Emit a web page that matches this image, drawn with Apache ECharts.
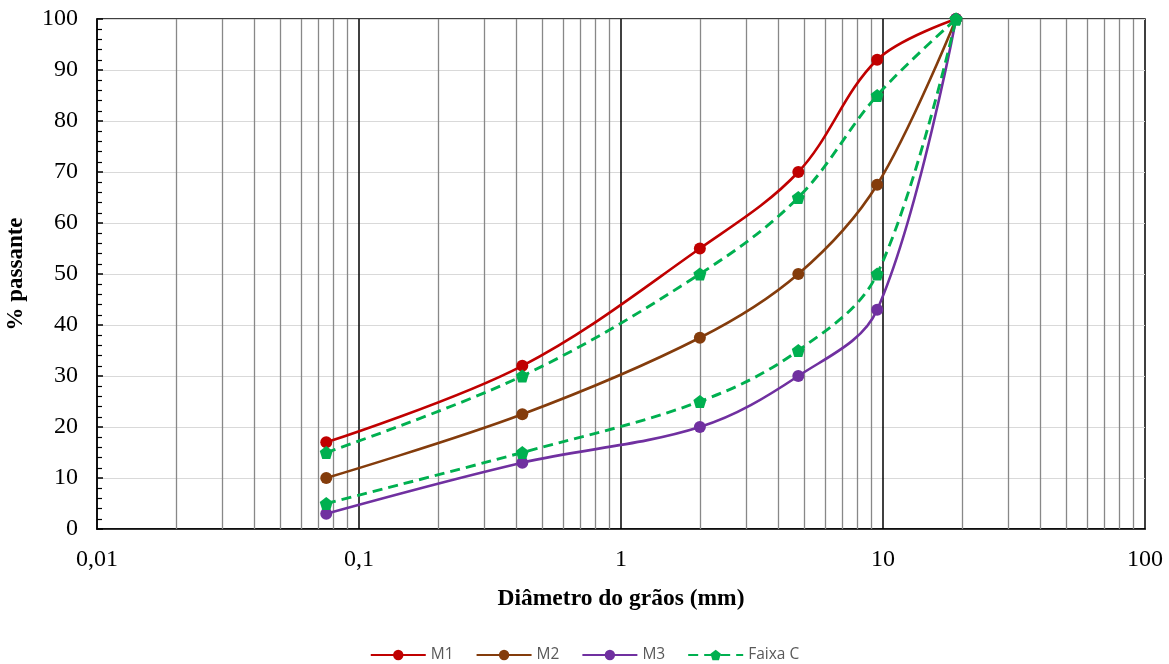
<!DOCTYPE html>
<html><head><meta charset="utf-8">
<script src="https://cdn.jsdelivr.net/npm/echarts@6/dist/echarts.min.js"></script>
<style>html,body{margin:0;padding:0;background:#fff}#c{width:1169px;height:664px}</style>
</head><body><div id="c"></div>
<script>
const sieves = [0.075, 0.42, 2.0, 4.75, 9.5, 19.0];
const m1 = [17, 32, 55, 70, 92, 100];
const m2 = [10, 22.5, 37.5, 50, 67.5, 100];
const m3 = [3, 13, 20, 30, 43, 100];
const faixaSup = [15, 30, 50, 65, 85, 100];
const faixaInf = [5, 15, 25, 35, 50, 100];
const decades = [0.01, 0.1, 1, 10];
const majorLines = [0.1, 1, 10];

const serif = 'Liberation Serif';
const pent = 'path://M0,-10 L9.5,-3.1 L5.9,8.1 L-5.9,8.1 L-9.5,-3.1 Z';
function pts(v){ return sieves.map((x,i)=>[x, v[i]]); }

const minor = [];
decades.forEach(d=>{ for(let k=2;k<=9;k++) minor.push({xAxis: +(d*k).toPrecision(3)}); });

function lineSeries(name, data, color, dashed, symbol){
  return {
    name, type:'line', data: pts(data), smooth:0.35, symbol: symbol||'circle', symbolSize: symbol? 13 : 12,
    lineStyle:{color, width: dashed? 2.9 : 2.6, type: dashed? [10,6] : 'solid'},
    itemStyle:{color}, z: 5
  };
}

const chart = echarts.init(document.getElementById('c'));
chart.setOption({
  animation:false,
  grid:{left:97, right:24, top:19, bottom:135, containLabel:false, outerBoundsMode:'none',
    show:true, borderColor:'#000', borderWidth:1.5},
  legend:{
    top:642, left:'center', itemWidth:55, itemHeight:13, itemGap:22,
    textStyle:{fontFamily:'Open Sans', fontSize:15.5, color:'#595959', padding:[0,0,0,0]},
    data:['M1','M2','M3','Faixa C']
  },
  xAxis:{
    type:'log', logBase:10, min:0.01, max:100,
    name:'Diâmetro do grãos (mm)', nameLocation:'middle', nameGap:58,
    nameTextStyle:{fontFamily:serif, fontSize:23.5, fontWeight:'bold', color:'#000'},
    axisLine:{lineStyle:{color:'#000', width:1.5}},
    axisTick:{show:false},
    axisLabel:{fontFamily:serif, fontSize:24, color:'#000', margin:19,
      formatter:v=>String(+v.toPrecision(3)).replace('.',',')},
    splitLine:{show:false}, minorTick:{show:false}, minorSplitLine:{show:false}
  },
  yAxis:{
    type:'value', min:0, max:100, interval:10,
    name:'% passante', nameLocation:'middle', nameGap:69, nameRotate:90,
    nameTextStyle:{fontFamily:serif, fontSize:23, fontWeight:'bold', color:'#000'},
    axisLine:{show:true, lineStyle:{color:'#000', width:1.5}},
    axisTick:{show:true, inside:true, length:6, lineStyle:{color:'#000', width:1.5}},
    minorTick:{show:true, splitNumber:5, length:5, lineStyle:{color:'#000', width:1.2}},
    axisLabel:{fontFamily:serif, fontSize:24, color:'#000', margin:19},
    splitLine:{show:true, lineStyle:{color:'#d9d9d9', width:1.2}}
  },
  series:[
    {
      name:'grid', type:'line', data:[], silent:true, z:1,
      markLine:{silent:true, symbol:['none','none'], label:{show:false},
        lineStyle:{color:'#888', width:1.3, type:'solid'},
        data: minor.concat(majorLines.map(v=>({xAxis:v, lineStyle:{color:'#000', width:1.5}})))
      }
    },
    lineSeries('M1', m1, '#C00000'),
    lineSeries('M2', m2, '#843C0C'),
    lineSeries('M3', m3, '#7030A0'),
    lineSeries('Faixa C', faixaSup, '#00B050', true, pent),
    lineSeries('Faixa C', faixaInf, '#00B050', true, pent)
  ]
});
</script></body></html>
